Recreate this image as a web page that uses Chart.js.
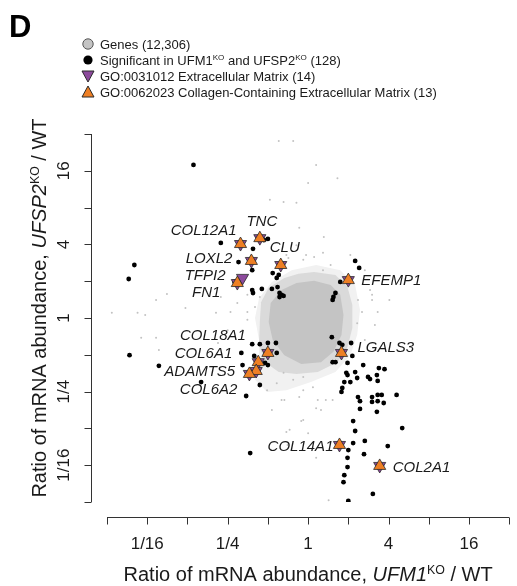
<!DOCTYPE html>
<html>
<head>
<meta charset="utf-8">
<script src="https://cdn.jsdelivr.net/npm/chart.js@4.4.0/dist/chart.umd.min.js"></script>
<style>
  html, body { margin: 0; padding: 0; background: #fff; }
  canvas { display: block; }
</style>
</head>
<body>
<canvas id="chart" width="517" height="586"></canvas>
<script>
// all values are log2 ratios: x = UFM1 KO / WT, y = UFSP2 KO / WT
const axisTicks = [-5, -4, -3, -2, -1, 0, 1, 2, 3, 4, 5];
const labelledTicks = [-4, -2, 0, 2, 4];
const tickLabels = ['1/16', '1/4', '1', '4', '16'];

// outline of the dense gene cloud, a softer ring round it and the faint fringe
const cloudCore = [
  [0.15, 1.01], [0.56, 0.90], [0.80, 0.63], [0.88, 0.08], [0.83, -0.46], [0.63, -0.92],
  [0.32, -1.20], [-0.17, -1.25], [-0.59, -1.01], [-0.88, -0.60], [-0.98, -0.11],
  [-0.93, 0.41], [-0.66, 0.76], [-0.29, 0.95]
];
const cloudRing = [
  [0.15, 1.25], [0.68, 1.17], [0.98, 0.84], [1.10, 0.35], [1.10, -0.27], [0.98, -0.79],
  [0.73, -1.20], [0.24, -1.47], [-0.29, -1.52], [-0.73, -1.47], [-1.07, -1.20],
  [-1.22, -0.73], [-1.20, -0.11], [-1.17, 0.43], [-0.98, 0.82], [-0.59, 1.09], [-0.24, 1.20]
];
const cloudFringe = [
  [0.20, 1.44], [0.80, 1.30], [1.17, 0.90], [1.29, 0.22], [1.22, -0.46], [1.05, -1.01],
  [0.68, -1.47], [0.07, -1.74], [-0.54, -1.96], [-1.02, -2.01], [-1.32, -1.68],
  [-1.22, -1.20], [-1.22, -0.60], [-1.32, 0.00], [-1.22, 0.54], [-0.90, 0.98], [-0.41, 1.30]
];

// scattered genes outside the cloud
const grayGenes = [
  [-4.88, 0.14], [-4.24, 0.14], [-4.05, 0.08], [-3.78, 0.49], [-3.51, 0.65], [-3.05, 0.27],
  [-2.56, 0.82], [-2.29, 0.14], [-2.17, 0.57], [-1.93, 0.16], [-1.76, 0.41], [-0.73, 4.81],
  [-0.37, 4.81], [0.20, 4.16], [0.00, 3.67], [0.73, 3.80], [-0.95, 3.21], [-0.61, 3.15],
  [-0.29, 3.13], [-0.22, 2.45], [0.39, 2.20], [0.37, 1.77], [0.56, 1.44], [1.59, 0.63],
  [1.73, 0.16], [1.66, -0.19], [1.41, -0.60], [2.02, 0.49], [-4.15, -0.54], [-3.78, -0.54],
  [-3.71, -0.87], [-2.24, -0.68], [-0.54, -3.10], [-0.17, -2.80], [-0.46, -3.04],
  [0.00, -3.13], [0.20, -2.45], [0.44, -2.23], [-0.51, -3.45], [0.20, -3.80], [0.51, -4.95],
  [-0.12, -2.77], [0.32, -2.50], [0.61, -2.23], [0.24, -2.23], [-0.12, -1.96], [-0.66, -2.23],
  [-0.90, -2.50], [-1.51, 0.63], [-1.63, -0.33], [-2.00, -0.33], [-1.51, -0.05], [1.41, 1.30],
  [1.05, 1.71], [-0.29, 1.98], [-0.54, 1.71], [-0.05, 1.71], [1.66, -0.87], [1.54, 0.76],
  [-0.61, 1.49], [-0.49, 1.63], [0.15, 1.66], [0.37, 1.30], [-0.12, 1.58], [1.24, 0.49],
  [1.34, 0.16], [1.22, -0.14], [1.59, 0.49], [-1.20, 0.57], [-1.32, 0.30], [-1.51, 0.16],
  [-0.37, -1.68], [-0.12, -1.60], [-0.61, -1.49], [0.12, -1.88], [-0.78, -1.77],
  [-1.02, -1.96], [-0.22, -2.15], [-0.59, -2.23]
];

// significant in both knockouts (ECM genes below are added on top)
const significant = [
  [-2.85, 4.16], [-4.32, 1.44], [-4.46, 1.06], [-4.44, -1.01], [-3.71, -1.30], [-2.66, -1.74],
  [-2.17, 2.04], [-1.73, 1.52], [-1.37, 1.88], [-1.00, 2.15], [-1.10, 2.12], [-1.39, 1.30],
  [-1.83, 0.98], [-1.39, 0.76], [-1.37, 0.68], [-1.15, 0.79], [-0.90, 0.79], [-0.76, 0.84],
  [-0.71, 0.68], [-0.66, 0.63], [-0.71, 0.57], [-0.61, 0.60], [-0.88, 1.22], [-0.73, 1.17],
  [-0.78, 1.09], [1.17, 1.55], [1.27, 1.36], [0.80, 0.98], [0.68, 0.68], [0.63, 0.57],
  [0.61, 0.49], [0.59, -0.52], [0.78, -0.68], [0.85, -0.73], [1.07, -0.68], [-1.39, -0.71],
  [-1.20, -0.71], [-1.00, -0.68], [-0.80, -0.68], [-1.66, -0.95], [-1.34, -1.03], [-0.78, -0.95],
  [-1.07, -1.22], [-1.00, -1.28], [-1.63, -1.28], [-1.20, -1.82], [-1.54, -2.12], [-1.44, -3.67],
  [1.10, -1.03], [0.68, -1.20], [0.98, -1.22], [1.37, -1.28], [1.76, -1.36], [1.90, -1.39],
  [0.95, -1.49], [0.98, -1.55], [1.17, -1.47], [1.22, -1.63], [1.49, -1.60], [1.54, -1.66],
  [1.71, -1.55], [1.73, -1.71], [1.05, -1.74], [0.90, -1.74], [0.85, -1.90], [0.83, -2.01],
  [1.24, -2.15], [1.29, -2.26], [1.29, -2.47], [1.59, -2.15], [1.73, -2.09], [1.83, -2.09],
  [1.59, -2.28], [1.73, -2.26], [1.88, -2.31], [2.20, -2.09], [1.71, -2.55], [1.12, -2.80],
  [1.17, -3.07], [2.34, -2.99], [1.12, -3.40], [1.41, -3.34], [1.00, -3.59], [0.98, -3.80],
  [1.39, -3.70], [1.98, -3.48], [0.98, -4.05], [0.90, -4.27], [0.88, -4.46], [1.61, -4.78],
  [1.00, -4.97], [0.61, -1.20]
];

// GO:0031012 extracellular matrix genes; all but TFPI2 are also GO:0062023
const ecmGenes = ['COL12A1', 'TNC', 'LOXL2', 'CLU', 'FN1', 'TFPI2', 'EFEMP1', 'COL18A1',
  'COL6A1', 'ADAMTS5', 'COL6A2', 'LGALS3', 'COL14A1', 'COL2A1'];
const ecmX = [-1.68, -1.20, -1.41, -0.68, -1.76, -1.63, 1.00, -1.00, -1.24, -1.29, -1.46, 0.83, 0.78, 1.78];
const ecmY = [2.01, 2.17, 1.55, 1.44, 0.95, 1.09, 1.03, -0.95, -1.20, -1.44, -1.52, -0.95, -3.45, -4.02];
const notCollagen = ['TFPI2'];

// label placement: [align, dx px, dy px] from the marker
const labelPlace = {
  COL12A1: ['right', -4, -13], TNC: ['center', 2, -16], LOXL2: ['right', -19, -2],
  CLU: ['center', 4, -17], FN1: ['right', -17, 10], TFPI2: ['right', -17, -2],
  EFEMP1: ['left', 13, 1], COL18A1: ['right', -22, -17], COL6A1: ['right', -26, -8],
  ADAMTS5: ['right', -21, 1], COL6A2: ['right', -12, 16], LGALS3: ['left', 16, -5],
  COL14A1: ['right', -6, 2], COL2A1: ['left', 13, 2]
};

const ORANGE = '#ee7f24';
const PURPLE = '#8c4a9c';
const EDGE = '#2a2a2a';
const FONT = '"Liberation Sans", Arial, sans-serif';

const ecmPoints = ecmGenes.map((g, i) => ({ x: ecmX[i], y: ecmY[i] }));
const collagenPoints = ecmPoints.filter((p, i) => !notCollagen.includes(ecmGenes[i]));
const toXY = arr => arr.map(p => ({ x: p[0], y: p[1] }));

function fillShape(ctx, xs, ys, pts, color) {
  ctx.beginPath();
  pts.forEach((p, i) => {
    const px = xs.getPixelForValue(p[0]), py = ys.getPixelForValue(p[1]);
    if (i === 0) ctx.moveTo(px, py); else ctx.lineTo(px, py);
  });
  ctx.closePath();
  ctx.fillStyle = color;
  ctx.fill();
}

// text made of pieces: {t, it (italic), sup (superscript)}
function richWidth(ctx, parts, size) {
  let w = 0;
  parts.forEach(p => {
    const s = p.sup ? size * 0.62 : size;
    ctx.font = (p.it ? 'italic ' : '') + s + 'px ' + FONT;
    w += ctx.measureText(p.t).width;
  });
  return w;
}
function drawRich(ctx, parts, x, y, size, align) {
  let cx = align === 'center' ? x - richWidth(ctx, parts, size) / 2 : x;
  ctx.textAlign = 'left';
  ctx.textBaseline = 'alphabetic';
  parts.forEach(p => {
    const s = p.sup ? size * 0.62 : size;
    ctx.font = (p.it ? 'italic ' : '') + s + 'px ' + FONT;
    ctx.fillText(p.t, cx, p.sup ? y - size * 0.36 : y);
    cx += ctx.measureText(p.t).width;
  });
}

function legendMarker(ctx, kind, x, y) {
  ctx.save();
  ctx.lineWidth = 1;
  ctx.strokeStyle = EDGE;
  ctx.beginPath();
  if (kind === 'gray') {
    ctx.arc(x, y, 5.2, 0, Math.PI * 2);
    ctx.fillStyle = '#c4c4c4';
    ctx.fill(); ctx.strokeStyle = '#555'; ctx.stroke();
  } else if (kind === 'black') {
    ctx.arc(x, y, 4.6, 0, Math.PI * 2);
    ctx.fillStyle = '#000'; ctx.fill();
  } else if (kind === 'down') {
    ctx.moveTo(x - 6, y - 5); ctx.lineTo(x + 6, y - 5); ctx.lineTo(x, y + 6); ctx.closePath();
    ctx.fillStyle = PURPLE; ctx.fill(); ctx.stroke();
  } else {
    ctx.moveTo(x - 6, y + 5); ctx.lineTo(x + 6, y + 5); ctx.lineTo(x, y - 6); ctx.closePath();
    ctx.fillStyle = ORANGE; ctx.fill(); ctx.stroke();
  }
  ctx.restore();
}

const decorations = {
  id: 'decorations',
  beforeDatasetsDraw(chart) {
    const { ctx, scales: { x, y } } = chart;
    ctx.save();
    fillShape(ctx, x, y, cloudFringe, '#f1f1f1');
    fillShape(ctx, x, y, cloudRing, '#dadada');
    fillShape(ctx, x, y, cloudCore, '#c4c4c4');
    ctx.restore();
  },
  afterDraw(chart) {
    const { ctx, chartArea, scales: { x, y } } = chart;
    ctx.save();
    ctx.fillStyle = '#1a1a1a';
    ctx.strokeStyle = '#333';
    ctx.lineWidth = 1;

    // x axis, offset below the plot
    const axY = chartArea.bottom + 15.5;
    ctx.beginPath();
    ctx.moveTo(x.getPixelForValue(-5), axY);
    ctx.lineTo(x.getPixelForValue(5), axY);
    axisTicks.forEach(v => {
      const px = Math.round(x.getPixelForValue(v)) + 0.5;
      ctx.moveTo(px, axY); ctx.lineTo(px, axY + 7);
    });
    ctx.stroke();
    ctx.font = '17px ' + FONT;
    ctx.textAlign = 'center';
    ctx.textBaseline = 'middle';
    labelledTicks.forEach((v, i) => ctx.fillText(tickLabels[i], x.getPixelForValue(v), axY + 27));

    // y axis, offset left of the plot
    const axX = chartArea.left - 15.5;
    ctx.beginPath();
    ctx.moveTo(axX, y.getPixelForValue(5));
    ctx.lineTo(axX, y.getPixelForValue(-5));
    axisTicks.forEach(v => {
      const py = Math.round(y.getPixelForValue(v)) + 0.5;
      ctx.moveTo(axX - 7, py); ctx.lineTo(axX, py);
    });
    ctx.stroke();
    labelledTicks.forEach((v, i) => {
      ctx.save();
      ctx.translate(axX - 27, y.getPixelForValue(v));
      ctx.rotate(-Math.PI / 2);
      ctx.fillText(tickLabels[i], 0, 0);
      ctx.restore();
    });

    // axis titles
    drawRich(ctx, [{ t: 'Ratio of mRNA abundance, ' }, { t: 'UFM1', it: true }, { t: 'KO', sup: true },
      { t: ' / WT' }], x.getPixelForValue(0), 581, 20, 'center');
    ctx.save();
    ctx.translate(46, y.getPixelForValue(0) - 10);
    ctx.rotate(-Math.PI / 2);
    drawRich(ctx, [{ t: 'Ratio of mRNA abundance, ' }, { t: 'UFSP2', it: true }, { t: 'KO', sup: true },
      { t: ' / WT' }], 0, 0, 20, 'center');
    ctx.restore();

    // gene labels
    ctx.font = 'italic 15px ' + FONT;
    ctx.textBaseline = 'middle';
    ecmGenes.forEach((g, i) => {
      const [align, dx, dy] = labelPlace[g];
      ctx.textAlign = align;
      ctx.fillText(g, x.getPixelForValue(ecmX[i]) + dx, y.getPixelForValue(ecmY[i]) + dy);
    });

    // panel letter
    ctx.font = 'bold 31px ' + FONT;
    ctx.textAlign = 'left';
    ctx.textBaseline = 'alphabetic';
    ctx.fillStyle = '#000';
    ctx.fillText('D', 9, 37);

    // legend
    ctx.fillStyle = '#1a1a1a';
    const lx = 88, tx = 100, rows = [44, 60, 76, 92];
    legendMarker(ctx, 'gray', lx, rows[0]);
    legendMarker(ctx, 'black', lx, rows[1]);
    legendMarker(ctx, 'down', lx, rows[2]);
    legendMarker(ctx, 'up', lx, rows[3]);
    const ls = 13, base = 4.6;
    drawRich(ctx, [{ t: 'Genes (12,306)' }], tx, rows[0] + base, ls, 'left');
    drawRich(ctx, [{ t: 'Significant in UFM1' }, { t: 'KO', sup: true }, { t: ' and UFSP2' },
      { t: 'KO', sup: true }, { t: ' (128)' }], tx, rows[1] + base, ls, 'left');
    drawRich(ctx, [{ t: 'GO:0031012 Extracellular Matrix (14)' }], tx, rows[2] + base, ls, 'left');
    drawRich(ctx, [{ t: 'GO:0062023 Collagen-Containing Extracellular Matrix (13)' }], tx, rows[3] + base, ls, 'left');
    ctx.restore();
  }
};

new Chart(document.getElementById('chart'), {
  type: 'scatter',
  data: {
    datasets: [
      {
        label: 'GO:0062023 Collagen-Containing Extracellular Matrix',
        data: collagenPoints,
        pointStyle: 'triangle',
        pointRadius: 7,
        backgroundColor: ORANGE,
        borderColor: EDGE,
        borderWidth: 0.8,
        order: 0
      },
      {
        label: 'GO:0031012 Extracellular Matrix',
        data: ecmPoints,
        pointStyle: 'triangle',
        rotation: 180,
        pointRadius: 7,
        backgroundColor: PURPLE,
        borderColor: EDGE,
        borderWidth: 0.8,
        order: 1
      },
      {
        label: 'Significant in UFM1KO and UFSP2KO',
        data: toXY(significant).concat(ecmPoints),
        pointRadius: 2.4,
        backgroundColor: '#000',
        borderWidth: 0,
        order: 2
      },
      {
        label: 'Genes',
        data: toXY(grayGenes),
        pointRadius: 1,
        backgroundColor: '#c2c2c2',
        borderWidth: 0,
        order: 3
      }
    ]
  },
  options: {
    responsive: false,
    animation: false,
    layout: { padding: { left: 107, top: 134, right: 0, bottom: 84 } },
    plugins: { legend: { display: false }, tooltip: { enabled: false } },
    scales: {
      x: { type: 'linear', min: -5, max: 5, display: false },
      y: { type: 'linear', min: -5, max: 5, display: false }
    }
  },
  plugins: [decorations]
});
</script>
</body>
</html>
